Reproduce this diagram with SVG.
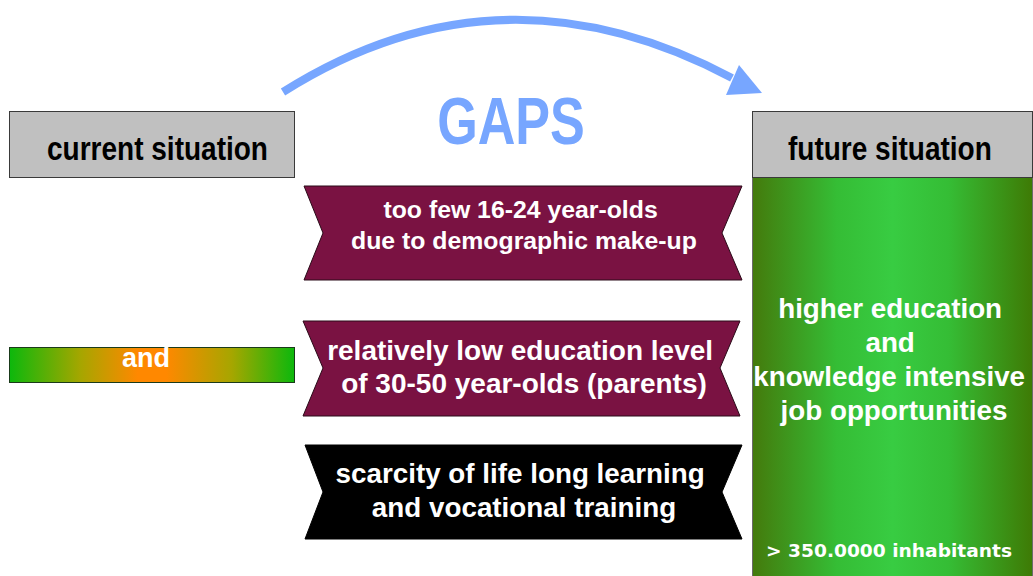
<svg xmlns="http://www.w3.org/2000/svg" width="1033" height="576" viewBox="0 0 1033 576">
  <defs>
    <style>
      .hdr { fill: #c0c0c0; stroke: #3a3a3a; stroke-width: 1; }
      .hdr-text { font-family: "Liberation Sans", Arial, sans-serif; font-weight: bold; font-size: 34px; fill: #000; }
      .banner-text { font-family: "Liberation Sans", Arial, sans-serif; font-weight: bold; fill: #fff; text-anchor: middle; }
      .maroon { fill: #7a1242; stroke: #2a0a18; stroke-width: 1; }
      .black { fill: #000; stroke: #000; stroke-width: 1; }
      .white-bold { font-family: "Liberation Sans", Arial, sans-serif; font-weight: bold; fill: #fff; text-anchor: middle; }
    </style>
    <linearGradient id="greenPanel" x1="0" y1="0" x2="1" y2="0">
      <stop offset="0" stop-color="#447a0c"/>
      <stop offset="0.3" stop-color="#35bd35"/>
      <stop offset="0.5" stop-color="#38cc42"/>
      <stop offset="0.7" stop-color="#35bd35"/>
      <stop offset="1" stop-color="#3e7a05"/>
    </linearGradient>
    <linearGradient id="orangeBar" x1="0" y1="0" x2="1" y2="0">
      <stop offset="0" stop-color="#0cb80c"/>
      <stop offset="0.25" stop-color="#a6a600"/>
      <stop offset="0.45" stop-color="#ff8800"/>
      <stop offset="0.55" stop-color="#ff8800"/>
      <stop offset="0.78" stop-color="#a6a600"/>
      <stop offset="1" stop-color="#0cb80c"/>
    </linearGradient>
  </defs>

  <rect width="1033" height="576" fill="#fff"/>

  <!-- connectors -->
  <g id="connectors">
    <path d="M283,92 Q500,-45 732,78" fill="none" stroke="#77a6ff" stroke-width="8"/>
    <polygon points="739,65 762,93 726,95" fill="#77a6ff"/>
  </g>

  <g id="gaps-title">
    <text transform="translate(511,144) scale(0.79,1)" text-anchor="middle" font-family="'Liberation Sans', Arial, sans-serif" font-weight="bold" font-size="66" fill="#77a6ff">GAPS</text>
  </g>

  <!-- current situation -->
  <g id="current">
    <rect class="hdr" x="9.5" y="111.5" width="285" height="66"/>
    <text class="hdr-text" transform="translate(47,160) scale(0.824,1)">current situation</text>
  </g>

  <g id="current-bar">
    <rect x="9.5" y="347.5" width="285" height="35" fill="url(#orangeBar)" stroke="#1a3a1a" stroke-width="1"/>
    <text class="white-bold" x="146" y="367" font-size="27">and</text>
  </g>

  <!-- future situation -->
  <g id="future">
    <rect x="752.5" y="177" width="280" height="400" fill="url(#greenPanel)" stroke="#6a6a6a" stroke-width="1"/>
    <rect class="hdr" x="752.5" y="111.5" width="280" height="66"/>
    <text class="hdr-text" transform="translate(788,160) scale(0.824,1)">future situation</text>
    <text class="white-bold" font-size="27.8">
      <tspan x="894" y="318">higher education</tspan>
      <tspan x="894" y="352">and</tspan>
      <tspan x="893" y="386">knowledge intensive</tspan>
      <tspan x="894" y="420">job opportunities</tspan>
    </text>
    <text x="766" y="557" font-family="'DejaVu Sans', Verdana, sans-serif" font-weight="bold" font-size="18.5" fill="#fff" textLength="246" lengthAdjust="spacingAndGlyphs">&gt; 350.0000 inhabitants</text>
  </g>

  <!-- gap banners -->
  <g id="gap-demographic">
    <polygon class="maroon" points="304,186 742,186 722,233 742,280 304,280 323,233"/>
    <text class="banner-text" font-size="24.8">
      <tspan x="524" y="218">too few 16-24 year-olds</tspan>
      <tspan x="524" y="249">due to demographic make-up</tspan>
    </text>
  </g>

  <g id="gap-education">
    <polygon class="maroon" points="303,321 740,321 720,368 740,416 303,416 323,368"/>
    <text class="banner-text" font-size="28">
      <tspan x="524" y="360">relatively low education level</tspan>
      <tspan x="524" y="393">of 30-50 year-olds (parents)</tspan>
    </text>
  </g>

  <g id="gap-training">
    <polygon class="black" points="305,445 742,445 722,492 742,539 305,539 323,492"/>
    <text class="banner-text" font-size="27.8">
      <tspan x="524" y="483">scarcity of life long learning</tspan>
      <tspan x="524" y="517">and vocational training</tspan>
    </text>
  </g>
</svg>
